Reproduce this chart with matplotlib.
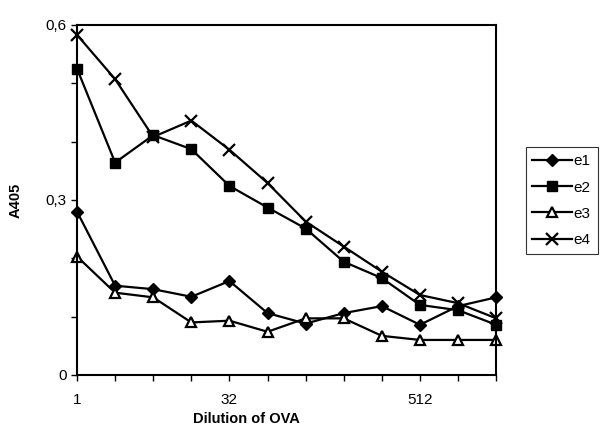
import numpy as np
import matplotlib
matplotlib.use("Agg")
import matplotlib.pyplot as plt

plt.rcParams['font.family'] = ['Liberation Sans', 'DejaVu Sans']

# dilution steps (category axis), only some are labelled
x_labels = ['1', '', '', '', '32', '', '', '', '', '512', '', '']

e1 = [0.280, 0.153, 0.147, 0.134, 0.161, 0.106, 0.088, 0.106, 0.118, 0.086, 0.118, 0.133]
e2 = [0.525, 0.364, 0.411, 0.387, 0.324, 0.287, 0.251, 0.194, 0.166, 0.120, 0.111, 0.086]
e3 = [0.203, 0.141, 0.133, 0.090, 0.093, 0.074, 0.097, 0.097, 0.067, 0.060, 0.060, 0.060]
e4 = [0.583, 0.507, 0.408, 0.436, 0.386, 0.329, 0.263, 0.220, 0.177, 0.137, 0.123, 0.097]

fig = plt.figure(figsize=(6.04, 4.37), dpi=100)
ax = fig.add_axes([0.1275, 0.142, 0.694, 0.801])

x = np.arange(len(e1))
lw = 1.6
ax.plot(x, e1, color='black', lw=lw, marker='D', ms=6.5, mfc='black', mec='black', label='e1', clip_on=False)
ax.plot(x, e2, color='black', lw=lw, marker='s', ms=7.5, mfc='black', mec='black', label='e2', clip_on=False)
ax.plot(x, e3, color='black', lw=lw, marker='^', ms=7.5, mfc='white', mec='black', mew=1.6, label='e3', clip_on=False)
ax.plot(x, e4, color='black', lw=lw, marker='x', ms=9, mec='black', mew=1.6, label='e4', clip_on=False)

ax.set_xlim(0, len(e1) - 1)
ax.set_ylim(0, 0.6)
ax.set_xticks(x)
ax.set_xticklabels(x_labels)
ax.set_yticks([0, 0.3, 0.6])
ax.set_yticklabels(['0', '0,3', '0,6'])
ax.set_yticks([0.1, 0.2, 0.4, 0.5], minor=True)

ax.tick_params(axis='both', which='both', direction='out', color='black', labelsize=11)
ax.tick_params(axis='both', which='major', length=4, width=1)
ax.tick_params(axis='y', which='minor', length=4, width=1)
ax.tick_params(axis='x', pad=9)

for s in ax.spines.values():
    s.set_linewidth(1.5)
    s.set_color('black')

ax.set_xlabel('Dilution of OVA', fontsize=10.5, fontweight='bold')
ax.xaxis.set_label_coords(0.405, -0.105)
ax.set_ylabel('A405', fontsize=10.5, fontweight='bold')
ax.yaxis.set_label_coords(-0.13, 0.5)

leg = ax.legend(loc='upper left', bbox_to_anchor=(1.07, 0.65), frameon=True, fancybox=False,
                edgecolor='black', fontsize=11, handlelength=2.6, handletextpad=0.1,
                borderpad=0.45, labelspacing=0.8, borderaxespad=0)
leg.get_frame().set_linewidth(0.8)

fig.savefig('out.png', dpi=100)
